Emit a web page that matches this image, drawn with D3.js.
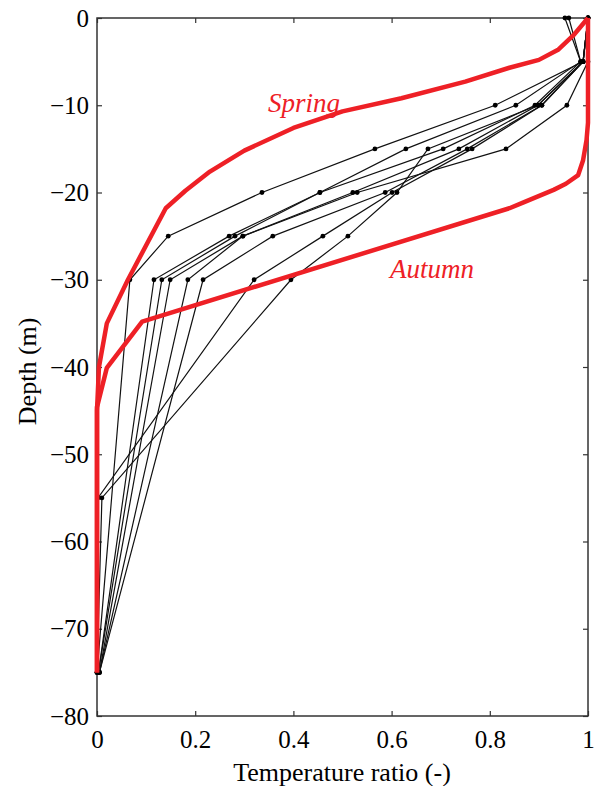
<!DOCTYPE html>
<html>
<head>
<meta charset="utf-8">
<script src="https://cdn.jsdelivr.net/npm/d3@7"></script>
<style>
  body { margin: 0; background: #fff; }
  svg text { font-family: "Liberation Serif", "Times New Roman", serif; }
</style>
</head>
<body>
<div id="chart"></div>
<script>
// depth levels of the measured profiles (m)
const depths = [0, -5, -10, -15, -20, -25, -30, -55, -75];

// measured temperature ratio profiles, one value per depth level (null = not sampled)
const profile1 = [1.000, 0.990, 0.811, 0.566, 0.336, 0.145, 0.067, null, 0.000];
const profile2 = [0.953, 0.985, 0.853, 0.629, 0.454, 0.269, 0.116, null, 0.003];
const profile3 = [0.961, 0.985, 0.892, 0.705, 0.454, 0.281, 0.132, null, 0.003];
const profile4 = [1.000, 1.000, 0.957, 0.833, 0.530, 0.297, 0.149, null, 0.005];
const profile5 = [1.000, 0.990, 0.898, 0.737, 0.521, 0.297, 0.185, null, 0.005];
const profile6 = [1.000, 0.990, 0.906, 0.754, 0.587, 0.358, 0.216, null, 0.005];
const profile7 = [1.000, 0.990, 0.906, 0.764, 0.601, 0.460, 0.320, 0.002, 0.000];
const profile8 = [1.000, 0.990, 0.898, 0.674, 0.611, 0.511, 0.395, 0.010, 0.000];
const profiles = [profile1, profile2, profile3, profile4, profile5, profile6, profile7, profile8];

// envelope curves
const springRatio = [1.00, 0.97, 0.94, 0.90, 0.84, 0.75, 0.62, 0.50, 0.40, 0.30, 0.23, 0.18, 0.14, 0.063, 0.02, 0.004, 0.00, 0.00];
const springDepth = [0.0, -2.0, -3.6, -4.8, -5.7, -7.3, -9.2, -10.7, -12.6, -15.2, -17.6, -19.8, -21.8, -30.0, -35.0, -40.0, -45.0, -75.0];
const autumnRatio = [1.00, 1.00, 0.997, 0.99, 0.98, 0.955, 0.93, 0.87, 0.84, 0.092, 0.02, 0.00, 0.00];
const autumnDepth = [0.0, -12.0, -14.0, -16.3, -18.0, -19.0, -19.7, -21.1, -21.8, -34.8, -40.1, -44.6, -75.0];

const xTicks = [0, 0.2, 0.4, 0.6, 0.8, 1];
const yTicks = [0, -10, -20, -30, -40, -50, -60, -70, -80];

const width = 601, height = 786;
const margin = {top: 18, right: 13, bottom: 70, left: 97};
const red = '#ee2026';

const svg = d3.select('#chart').append('svg')
  .attr('width', width)
  .attr('height', height);

const x = d3.scaleLinear().domain([0, 1]).range([margin.left, width - margin.right]);
const y = d3.scaleLinear().domain([-80, 0]).range([height - margin.bottom, margin.top]);

// axes, ticks pointing inward on all four sides
const fmtX = d => d === 0 || d === 1 ? String(d) : d3.format('.1f')(d);

svg.append('g')
  .attr('class', 'x axis')
  .attr('transform', 'translate(0,' + y(-80) + ')')
  .call(d3.axisBottom(x).tickValues(xTicks).tickFormat(fmtX).tickSizeInner(-5).tickSizeOuter(0).tickPadding(14));

svg.append('g')
  .attr('transform', 'translate(0,' + y(0) + ')')
  .call(d3.axisTop(x).tickValues(xTicks).tickFormat('').tickSizeInner(-5).tickSizeOuter(0));

svg.append('g')
  .attr('class', 'y axis')
  .attr('transform', 'translate(' + x(0) + ',0)')
  .call(d3.axisLeft(y).tickValues(yTicks).tickFormat(d3.format('d')).tickSizeInner(-5).tickSizeOuter(0).tickPadding(8));

svg.append('g')
  .attr('transform', 'translate(' + x(1) + ',0)')
  .call(d3.axisRight(y).tickValues(yTicks).tickFormat('').tickSizeInner(-5).tickSizeOuter(0));

svg.selectAll('.domain').remove();
svg.selectAll('.tick line').attr('stroke', '#333').attr('stroke-width', 1.2);
svg.selectAll('.tick text')
  .attr('fill', '#000')
  .style('font-size', '25px');

svg.append('rect')
  .attr('x', x(0)).attr('y', y(0))
  .attr('width', x(1) - x(0)).attr('height', y(-80) - y(0))
  .attr('fill', 'none')
  .attr('stroke', '#333')
  .attr('stroke-width', 1.5);

// measured profiles
const profileLine = d3.line()
  .x(d => x(d.v))
  .y(d => y(d.depth));

const profileData = profiles.map(p => p.map((v, i) => ({v, depth: depths[i]})).filter(d => d.v !== null));

const plot = svg.append('g');

plot.selectAll('path.profile')
  .data(profileData)
  .enter().append('path')
  .attr('class', 'profile')
  .attr('d', profileLine)
  .attr('fill', 'none')
  .attr('stroke', '#111')
  .attr('stroke-width', 1.2);

plot.selectAll('circle.pt')
  .data(profileData.flat())
  .enter().append('circle')
  .attr('class', 'pt')
  .attr('cx', d => x(d.v))
  .attr('cy', d => y(d.depth))
  .attr('r', 2.4)
  .attr('fill', '#000');

// envelopes
const envLine = d3.line()
  .x(d => x(d[0]))
  .y(d => y(d[1]));

[[springRatio, springDepth], [autumnRatio, autumnDepth]].forEach(([r, dp]) => {
  plot.append('path')
    .attr('d', envLine(r.map((v, i) => [v, dp[i]])))
    .attr('fill', 'none')
    .attr('stroke', red)
    .attr('stroke-width', 4.5)
    .attr('stroke-linejoin', 'round');
});

plot.append('text')
  .attr('x', 304).attr('y', y(-10.8))
  .attr('text-anchor', 'middle')
  .attr('fill', red)
  .style('font-size', '27px')
  .style('font-style', 'italic')
  .text('Spring');

plot.append('text')
  .attr('x', 432).attr('y', y(-29.8))
  .attr('text-anchor', 'middle')
  .attr('fill', red)
  .style('font-size', '27px')
  .style('font-style', 'italic')
  .text('Autumn');

// axis labels
svg.append('text')
  .attr('x', 342)
  .attr('y', 781)
  .attr('text-anchor', 'middle')
  .style('font-size', '26px')
  .text('Temperature ratio (-)');

svg.append('text')
  .attr('transform', 'translate(36,' + y(-40.5) + ') rotate(-90)')
  .attr('text-anchor', 'middle')
  .style('font-size', '26px')
  .text('Depth (m)');
</script>
</body>
</html>
